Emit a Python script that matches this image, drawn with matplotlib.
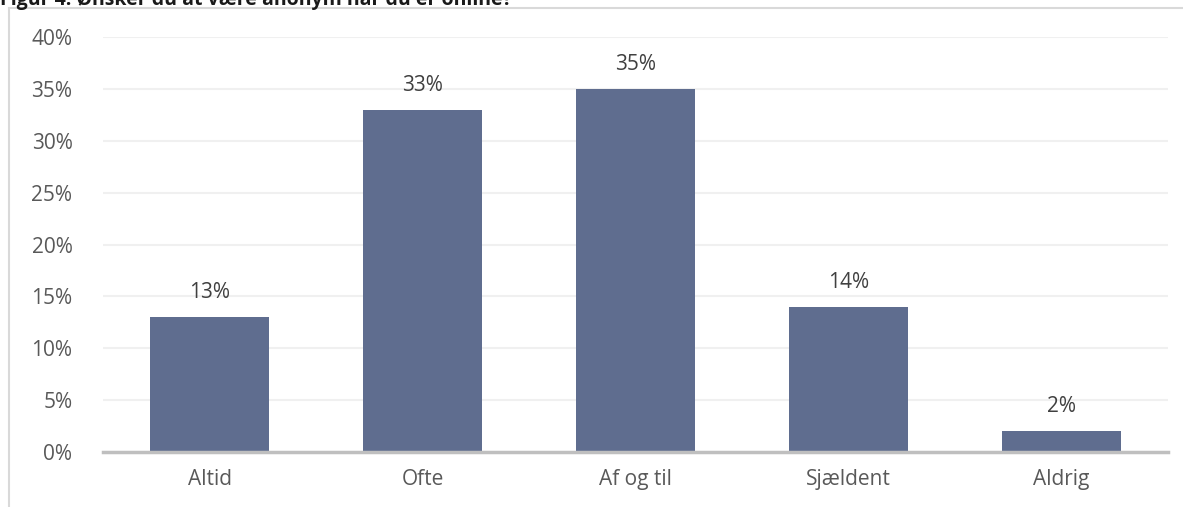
import matplotlib.pyplot as plt
from matplotlib.lines import Line2D

categories = ['Altid', 'Ofte', 'Af og til', 'Sjældent', 'Aldrig']
values = [13, 33, 35, 14, 2]
yticks = [0, 5, 10, 15, 20, 25, 30, 35, 40]

plt.rcParams['font.family'] = ['Open Sans', 'DejaVu Sans']

fig = plt.figure(figsize=(11.83, 5.07), dpi=100)
ax = fig.add_axes([0.0871, 0.1085, 0.9002, 0.8185])

bars = ax.bar(range(len(categories)), values, width=0.555, color='#5f6d8f', zorder=3)
for b, v in zip(bars, values):
    ax.annotate(f'{v}%', (b.get_x() + b.get_width() / 2, v), xytext=(0, 10),
                textcoords='offset points', ha='center', va='bottom',
                fontsize=15, color='#404040')

ax.set_xlim(-0.5, len(categories) - 0.5)
ax.set_ylim(0, 40)
ax.set_yticks(yticks)
ax.set_yticklabels([f'{t}%' for t in yticks])
ax.set_xticks(range(len(categories)))
ax.set_xticklabels(categories)
ax.tick_params(axis='both', length=0, labelsize=15, labelcolor='#595959')
ax.tick_params(axis='y', pad=22)
ax.tick_params(axis='x', pad=12)
ax.grid(axis='y', color='#f0f0f0', lw=1.5, zorder=0)
for s in ['top', 'right', 'left']:
    ax.spines[s].set_visible(False)
ax.spines['bottom'].set_color('#bfbfbf')
ax.spines['bottom'].set_linewidth(2.5)
ax.spines['bottom'].set_zorder(4)

# chart border (partially visible)
W, H = 1183, 507
fig.add_artist(Line2D([9 / W, 9 / W], [0, 1 - 8 / H], color='#d9d9d9', lw=1.5))
fig.add_artist(Line2D([9 / W, 1], [1 - 8 / H, 1 - 8 / H], color='#d9d9d9', lw=1.5))

fig.text(0.0, 1.002, 'Figur 4: Ønsker du at være anonym når du er online?',
         ha='left', va='center', fontsize=14, fontweight='bold', color='#1a1a1a')

fig.savefig('out.png', dpi=100)
